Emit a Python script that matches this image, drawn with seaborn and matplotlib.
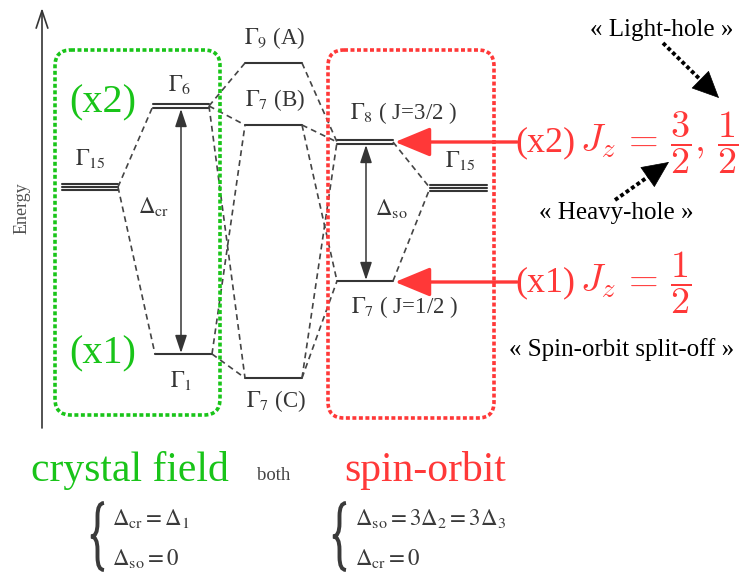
import numpy as np
import pandas as pd
import matplotlib
matplotlib.use("Agg")
import matplotlib.pyplot as plt
from matplotlib.patches import FancyBboxPatch, PathPatch
from matplotlib.path import Path
import seaborn as sns

# energy levels (x extent of the bar, y = energy position on the diagram)
level_names = ["G15_cf", "G6", "G1", "G9", "G7B", "G7C", "G8", "G7so", "G15_so"]
level_left = [62, 153, 155, 245, 245, 245, 337, 337, 430]
level_right = [118, 209, 212, 302, 302, 302, 393, 393, 487]
level_energy = [187, 106, 354, 63, 125, 378, 142, 281, 188]
level_degeneracy = [3, 2, 1, 1, 1, 1, 2, 1, 3]
level_labels = [r"$\Gamma_{15}$", r"$\Gamma_6$", r"$\Gamma_1$", r"$\Gamma_9$ (A)",
                r"$\Gamma_7$ (B)", r"$\Gamma_7$ (C)", r"$\Gamma_8$ ( J=3/2 )",
                r"$\Gamma_7$ ( J=1/2 )", r"$\Gamma_{15}$"]
label_x = [90, 180, 181, 275, 275, 276, 404, 405, 460]
label_y = [158, 84, 381, 38, 100, 401, 113, 307, 160]

# dashed correlation lines: right end of first -> left end of second
links = [("G15_cf", "G6"), ("G15_cf", "G1"),
         ("G6", "G9"), ("G6", "G7B"), ("G6", "G7C"),
         ("G1", "G7B"), ("G1", "G7C"),
         ("G9", "G8"), ("G7B", "G8"), ("G7B", "G7so"),
         ("G7C", "G8"), ("G7C", "G7so"),
         ("G8", "G15_so"), ("G7so", "G15_so")]

GRAY = '#353535'
GREEN = '#19c419'
RED = '#ff3838'
SERIF = 'Liberation Serif'

sns.set_theme(style='white')
fig = plt.figure(figsize=(7.42, 5.79), dpi=100)
ax = fig.add_axes([0, 0, 1, 1])

lev = pd.DataFrame({'name': level_names, 'x0': level_left, 'x1': level_right,
                    'y': level_energy, 'n': level_degeneracy}).set_index('name')

# level bars (multiple thin lines for degenerate levels)
rows = []
for name, r in lev.iterrows():
    offs = (np.arange(r.n) - (r.n - 1) / 2) * 3.2
    for k, o in enumerate(offs):
        rows.append({'seg': f'{name}_{k}', 'x': r.x0, 'y': r.y + o})
        rows.append({'seg': f'{name}_{k}', 'x': r.x1, 'y': r.y + o})
bars = pd.DataFrame(rows)
sns.lineplot(data=bars, x='x', y='y', units='seg', estimator=None, sort=False,
             color=GRAY, lw=1.5, legend=False, ax=ax)

rows = []
for i, (a, b) in enumerate(links):
    rows.append({'seg': i, 'x': lev.loc[a, 'x1'], 'y': lev.loc[a, 'y']})
    rows.append({'seg': i, 'x': lev.loc[b, 'x0'], 'y': lev.loc[b, 'y']})
dash = pd.DataFrame(rows)
sns.lineplot(data=dash, x='x', y='y', units='seg', estimator=None, sort=False,
             color='#444444', lw=1.2, linestyle=(0, (3.5, 2.5)), legend=False, ax=ax)

for lab, x, y in zip(level_labels, label_x, label_y):
    ax.text(x, y, lab, ha='center', va='center', fontsize=16.5, color=GRAY,
            family=SERIF, math_fontfamily='stix')

# splitting arrows
for a, b, xa, txt, tx, ty in [("G6", "G1", 181, r"$\Delta_{\mathrm{cr}}$", 154, 206),
                              ("G8", "G7so", 366, r"$\Delta_{\mathrm{so}}$", 391, 208)]:
    ax.annotate('', xy=(xa, lev.loc[b, 'y'] - 1), xytext=(xa, lev.loc[a, 'y'] + 3),
                arrowprops=dict(arrowstyle='<|-|>,head_length=0.9,head_width=0.3',
                                mutation_scale=12, color=GRAY, lw=1.1, shrinkA=0, shrinkB=0))
    ax.text(tx, ty, txt, ha='center', va='center', fontsize=16.5, color=GRAY,
            family=SERIF, math_fontfamily='stix')

# energy axis
ax.annotate('', xy=(42, 8), xytext=(42, 428),
            arrowprops=dict(arrowstyle='->,head_length=0.9,head_width=0.3',
                            mutation_scale=14, color=GRAY, lw=1.2, shrinkA=0, shrinkB=0))
ax.text(22, 208, 'Energy', rotation=90, ha='center', va='center', fontsize=13,
        color='#505050', family=SERIF)

# red arrows pointing at the spin-orbit levels
for yy in [142, 282]:
    ax.annotate('', xy=(395, yy), xytext=(517, yy),
                arrowprops=dict(arrowstyle='-|>,head_length=1.45,head_width=0.6',
                                mutation_scale=15, color=RED, lw=2.4, shrinkA=0, shrinkB=0))

# dotted boxes
for x0, y0, x1, y1, c in [(55, 50, 220, 415, GREEN), (328, 50, 494, 418, RED)]:
    ax.add_patch(FancyBboxPatch((x0, y0), x1 - x0, y1 - y0,
                                boxstyle='round,pad=0,rounding_size=16', fill=False,
                                edgecolor=c, lw=2.6, linestyle=(0, (1.1, 0.7)), zorder=5))

ax.text(103, 103, '(x2)', ha='center', va='center', fontsize=29, color=GREEN, family=SERIF)
ax.text(103, 354, '(x1)', ha='center', va='center', fontsize=29, color=GREEN, family=SERIF)

ax.text(515, 151, '(x2)', ha='left', va='baseline', fontsize=26, color=RED, family=SERIF)
ax.text(580, 151, r'$J_z\,=\,\dfrac{3}{2},\,\dfrac{1}{2}$', ha='left', va='baseline',
        fontsize=27.5, color=RED, math_fontfamily='cm')
ax.text(515, 291, '(x1)', ha='left', va='baseline', fontsize=26, color=RED, family=SERIF)
ax.text(580, 291, r'$J_z\,=\,\dfrac{1}{2}$', ha='left', va='baseline',
        fontsize=27.5, color=RED, math_fontfamily='cm')

ax.text(662, 30, '« Light-hole »', ha='center', va='center', fontsize=18, color='black', family=SERIF)
ax.text(616, 213, '« Heavy-hole »', ha='center', va='center', fontsize=18, color='black', family=SERIF)
ax.text(622, 350, '« Spin-orbit split-off »', ha='center', va='center', fontsize=18,
        color='black', family=SERIF)

# dotted black pointers: dotted shaft + solid head
for (x0, y0), (x1, y1) in [((663, 43), (719, 98)), ((615, 200), (669, 162))]:
    fx, fy = x0 + 0.72 * (x1 - x0), y0 + 0.72 * (y1 - y0)
    ax.plot([x0, fx], [y0, fy], color='black', lw=2.8, linestyle=(0, (1.0, 0.7)),
            solid_capstyle='butt')
    ax.annotate('', xy=(x1, y1), xytext=(fx, fy),
                arrowprops=dict(arrowstyle='-|>,head_length=1.3,head_width=0.6',
                                mutation_scale=14, color='black', lw=0.5,
                                shrinkA=0, shrinkB=0))

# bottom captions
ax.text(130, 470, 'crystal field', ha='center', va='center', fontsize=30, color=GREEN, family=SERIF)
ax.text(274, 476, 'both', ha='center', va='center', fontsize=13.5, color='#444444', family=SERIF)
ax.text(425, 470, 'spin-orbit', ha='center', va='center', fontsize=30, color=RED, family=SERIF)


def brace(x, ytop, ybot, w):
    mid = (ytop + ybot) / 2
    xm = x - w / 2
    verts = [(x, ytop), (xm, ytop), (xm, ytop + w),
             (xm, mid - w), (xm, mid), (x - w, mid),
             (xm, mid), (xm, mid + w),
             (xm, ybot - w), (xm, ybot), (x, ybot)]
    codes = [Path.MOVETO, Path.CURVE3, Path.CURVE3,
             Path.LINETO, Path.CURVE3, Path.CURVE3,
             Path.CURVE3, Path.CURVE3,
             Path.LINETO, Path.CURVE3, Path.CURVE3]
    ax.add_patch(PathPatch(Path(verts, codes), fill=False, edgecolor='#3a3a3a', lw=2.8))


brace(104, 503, 570, 13)
brace(346, 503, 570, 13)
eq_kw = dict(ha='left', va='center', fontsize=16.5, color='#3a3a3a', family=SERIF,
             math_fontfamily='stix')
ax.text(112, 518, r'$\Delta_{\mathrm{cr}} = \Delta_1$', **eq_kw)
ax.text(112, 558, r'$\Delta_{\mathrm{so}} = 0$', **eq_kw)
ax.text(355, 518, r'$\Delta_{\mathrm{so}} = 3\Delta_2 = 3\Delta_3$', **eq_kw)
ax.text(355, 558, r'$\Delta_{\mathrm{cr}} = 0$', **eq_kw)

ax.set_xlim(0, 742)
ax.set_ylim(579, 0)
ax.axis('off')
fig.savefig('out.png', dpi=100, facecolor='white')
